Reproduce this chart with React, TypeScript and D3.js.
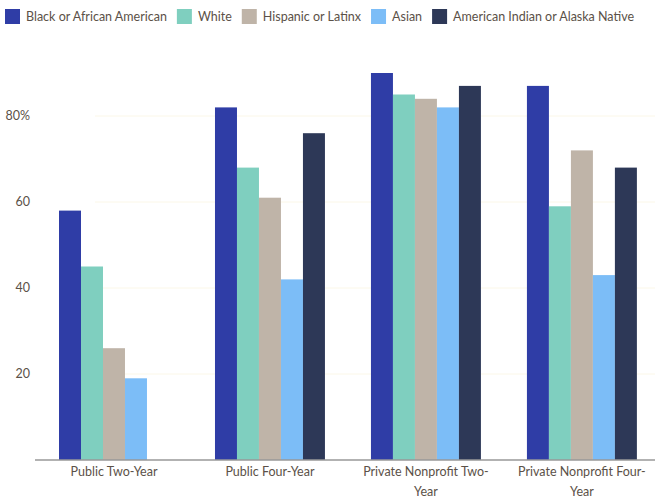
import React, { useRef, useEffect } from 'react';
import * as d3 from 'd3';

const categories = ['Public Two-Year', 'Public Four-Year', 'Private Nonprofit Two-Year', 'Private Nonprofit Four-Year'];
const seriesNames = ['Black or African American', 'White', 'Hispanic or Latinx', 'Asian', 'American Indian or Alaska Native'];
const seriesColors = ['#2f3da6', '#7fcfbf', '#bfb4a8', '#7cbdf7', '#2d3857'];

// one array per series, in category order (null = no bar)
const black = [58, 82, 90, 87];
const white = [45, 68, 85, 59];
const hispanic = [26, 61, 84, 72];
const asian = [19, 42, 82, 43];
const aian: (number | null)[] = [null, 76, 87, 68];
const seriesValues = [black, white, hispanic, asian, aian];

const yTicks = [20, 40, 60, 80];

const W = 666;
const H = 500;
const textColor = '#5b5148';
const font = 'Lato, "Open Sans", sans-serif';

const App: React.FC = () => {
  const svgRef = useRef<SVGSVGElement>(null);

  useEffect(() => {
    document.body.style.margin = '0';
    if (!svgRef.current) return;
    const svg = d3.select(svgRef.current);
    svg.selectAll('*').remove();

    const margin = { top: 30, right: 11, bottom: 40, left: 35 };
    const x0 = d3.scaleBand<string>()
      .domain(categories)
      .range([margin.left, W - margin.right])
      .paddingInner(0.295)
      .paddingOuter(0.135)
      .align(0.57);
    const x1 = d3.scaleBand<string>()
      .domain(seriesNames)
      .range([0, x0.bandwidth()]);
    const y = d3.scaleLinear()
      .domain([0, 100])
      .range([H - margin.bottom, margin.top]);

    // faint gridlines
    svg.append('g')
      .selectAll('line')
      .data(yTicks)
      .join('line')
      .attr('x1', margin.left + 60)
      .attr('x2', W - margin.right)
      .attr('y1', d => y(d))
      .attr('y2', d => y(d))
      .attr('stroke', '#fbf7e8')
      .attr('stroke-width', 1);

    // y tick labels
    svg.append('g')
      .selectAll('text')
      .data(yTicks)
      .join('text')
      .attr('x', 30)
      .attr('y', d => y(d))
      .attr('dy', '0.35em')
      .attr('text-anchor', 'end')
      .style('font-family', font)
      .style('font-size', '12.5px')
      .style('fill', textColor)
      .text(d => (d === 80 ? '80%' : String(d)));

    // bars
    const groups = svg.append('g')
      .selectAll('g')
      .data(categories)
      .join('g')
      .attr('transform', d => `translate(${x0(d)},0)`);

    groups.selectAll('rect')
      .data((_, i) => seriesNames.map((s, j) => ({ s, v: seriesValues[j][i], c: seriesColors[j] })))
      .join('rect')
      .filter(d => d.v != null)
      .attr('x', d => x1(d.s)!)
      .attr('width', x1.bandwidth())
      .attr('y', d => y(d.v as number))
      .attr('height', d => y(0) - y(d.v as number))
      .attr('fill', d => d.c);

    // baseline
    svg.append('line')
      .attr('x1', margin.left)
      .attr('x2', W - margin.right)
      .attr('y1', y(0))
      .attr('y2', y(0))
      .attr('stroke', '#999')
      .attr('stroke-width', 1.5);

    // category labels with wrapping
    const maxW = 128;
    categories.forEach(cat => {
      const cx = x0(cat)! + x0.bandwidth() / 2;
      const t = svg.append('text')
        .attr('x', cx)
        .attr('y', y(0) + 16)
        .attr('text-anchor', 'middle')
        .style('font-family', font)
        .style('font-size', '12.5px')
        .style('fill', textColor);
      const tokens = cat.match(/[^\s-]+-?\s*/g) || [cat];
      let line = '';
      let tspan = t.append('tspan').attr('x', cx).attr('dy', 0);
      tokens.forEach(tok => {
        const test = line + tok;
        tspan.text(test.trim());
        if ((tspan.node() as SVGTSpanElement).getComputedTextLength() > maxW && line) {
          tspan.text(line.trim());
          line = tok;
          tspan = t.append('tspan').attr('x', cx).attr('dy', 20).text(tok.trim());
        } else {
          line = test;
        }
      });
    });

    // legend
    const legend = svg.append('g');
    let lx = 5;
    seriesNames.forEach((name, i) => {
      legend.append('rect')
        .attr('x', lx)
        .attr('y', 9)
        .attr('width', 15)
        .attr('height', 15)
        .attr('fill', seriesColors[i]);
      const txt = legend.append('text')
        .attr('x', lx + 21)
        .attr('y', 17)
        .attr('dy', '0.35em')
        .style('font-family', font)
        .style('font-size', '12.5px')
        .style('fill', textColor)
        .text(name);
      lx += 21 + (txt.node() as SVGTextElement).getComputedTextLength() + 10;
    });
  }, []);

  return <svg ref={svgRef} width={W} height={H} style={{ display: 'block', background: '#fff' }} />;
};

export default App;
